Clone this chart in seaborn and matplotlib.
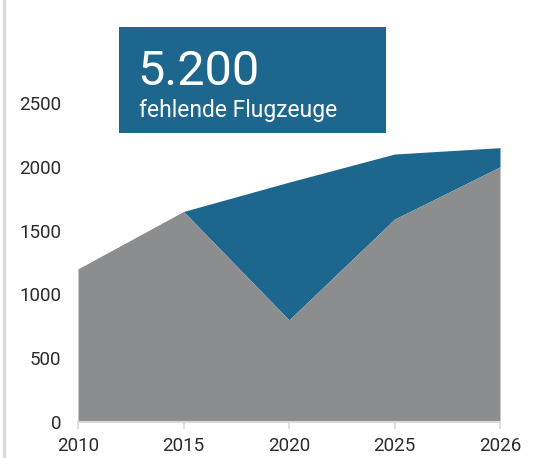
import matplotlib
matplotlib.use("Agg")
import matplotlib.pyplot as plt
import seaborn as sns
import pandas as pd
from matplotlib.patches import Rectangle
from matplotlib.lines import Line2D

years = ["2010", "2015", "2020", "2025", "2026"]
base_values = [1200, 1650, 800, 1590, 2000]
top_values = [1200, 1650, 1880, 2100, 2150]
y_ticks = [0, 500, 1000, 1500, 2000, 2500]
headline = "5.200"
subline = "fehlende Flugzeuge"

sns.set_theme(style="white")
plt.rcParams['font.family'] = ['Roboto', 'DejaVu Sans']

GRAY = "#8c8d8f"
BLUE = "#1d668d"

df = pd.DataFrame({"year": years, "pos": range(len(years)),
                   "base": base_values, "top": top_values})

fig = plt.figure(figsize=(5.35, 4.58), dpi=100)
W, H = 535, 458
ax = fig.add_axes([78 / W, (H - 422) / H, (500 - 78) / W, (422 - 103) / H])

sns.lineplot(data=df, x="pos", y="top", ax=ax, color=BLUE, linewidth=0)
sns.lineplot(data=df, x="pos", y="base", ax=ax, color=GRAY, linewidth=0)
ax.fill_between(df["pos"], df["base"], df["top"], color=BLUE, linewidth=0)
ax.fill_between(df["pos"], 0, df["base"], color=GRAY, linewidth=0)

ax.set_xlim(0, len(years) - 1)
ax.set_ylim(0, 2500)
ax.set_xticks(df["pos"])
ax.set_xticklabels(years)
ax.set_yticks(y_ticks)
ax.set_xlabel("")
ax.set_ylabel("")
for s in ["top", "right", "left"]:
    ax.spines[s].set_visible(False)
ax.spines["bottom"].set_color("#d9d9d9")
ax.spines["bottom"].set_linewidth(1.5)
ax.tick_params(axis="x", length=5, width=1.2, color="#d9d9d9", labelsize=13.5,
               labelcolor="#2b2b2b", pad=6, bottom=True)
ax.tick_params(axis="y", length=0, labelsize=13.5, labelcolor="#2b2b2b", pad=12)
ax.grid(False)

# left vertical line
fig.add_artist(Line2D([4 / W, 4 / W], [0, 1], color="#dcdcdc", linewidth=2.5,
                      transform=fig.transFigure))

# headline box
fig.add_artist(Rectangle((119 / W, (H - 133) / H), (386 - 119) / W, (133 - 27) / H,
                         transform=fig.transFigure, color=BLUE, linewidth=0))
fig.text(137 / W, (H - 85) / H, headline, color="white", fontsize=35,
         ha="left", va="baseline")
fig.text(139 / W, (H - 117) / H, subline, color="white", fontsize=16.5,
         ha="left", va="baseline")

fig.savefig("out.png", dpi=100)
